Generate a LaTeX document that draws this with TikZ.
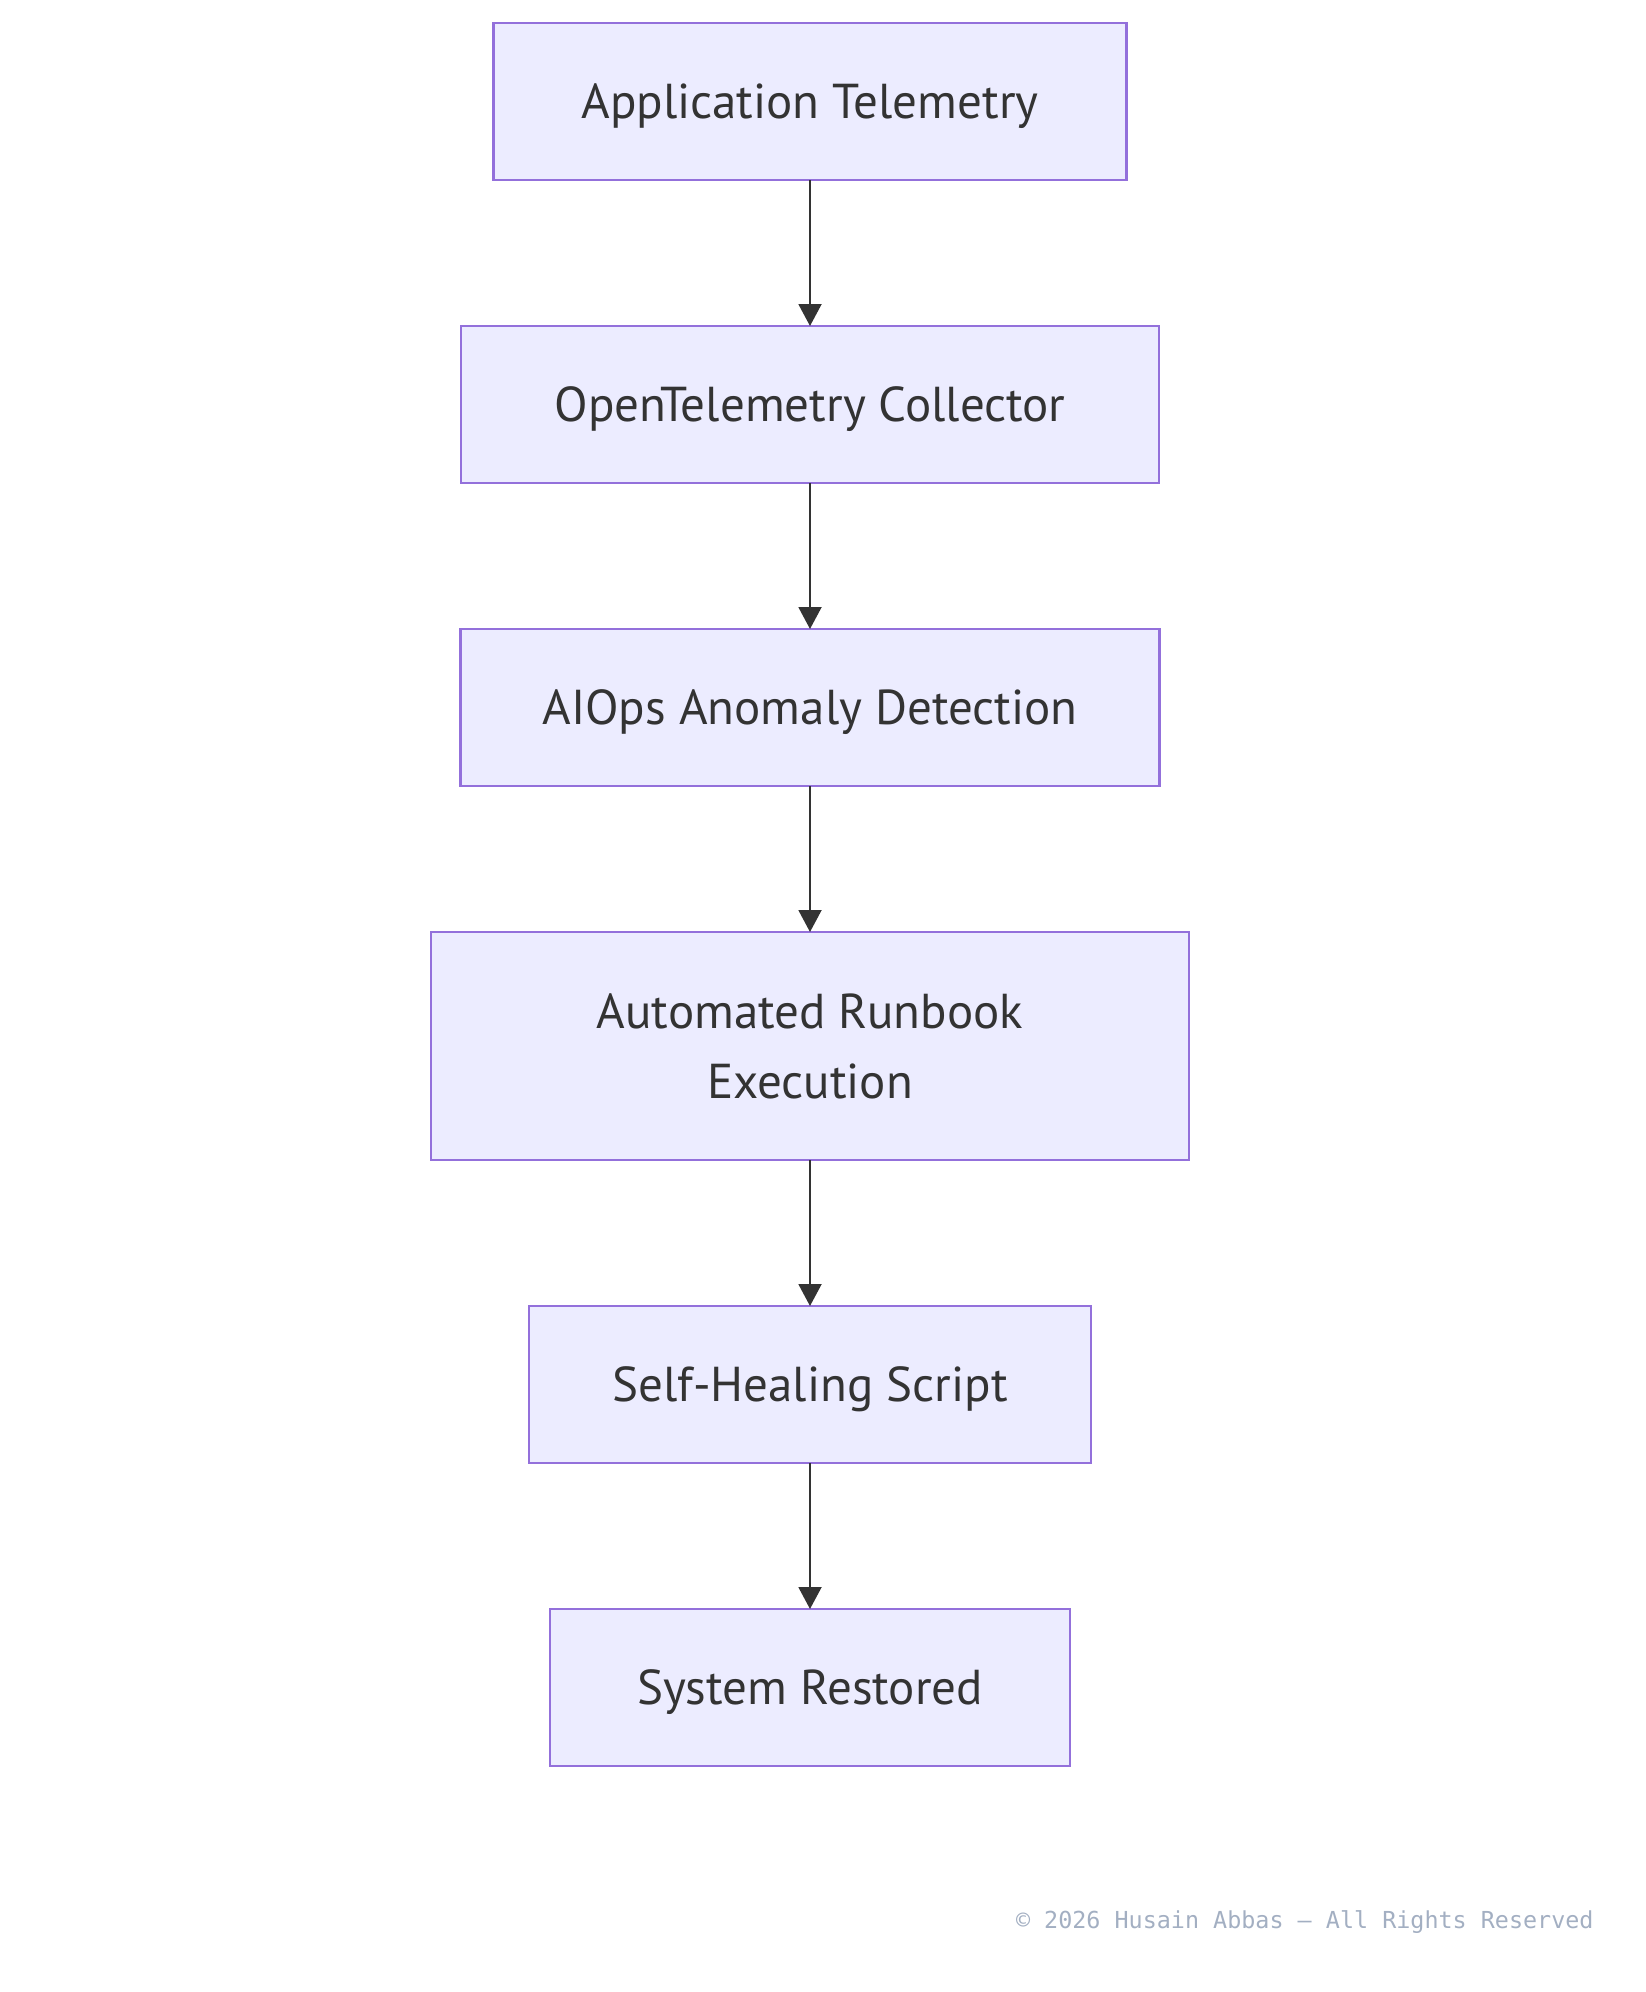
\documentclass[tikz,border=0pt]{standalone}
\usepackage{fontspec}
\setmainfont{PT Sans}
\setmonofont{DejaVu Sans Mono}
\usetikzlibrary{positioning,arrows.meta}
\definecolor{boxfill}{HTML}{ECECFF}
\definecolor{boxline}{HTML}{9370DB}
\definecolor{ink}{HTML}{333333}
\definecolor{footgray}{HTML}{A3AFC2}

\begin{document}
\begin{tikzpicture}[x=0.5pt,y=-0.5pt,node distance=73pt,
    box/.style={draw=boxline,fill=boxfill,line width=1.2pt,minimum height=78.5pt,
      inner sep=0pt,outer sep=0pt,text depth=0pt,align=center,text=ink,font=\fontsize{24.5}{35}\selectfont},
    flow/.style={draw=ink,line width=1pt,-{Triangle[width=11.5pt,length=11pt]}}]
    \useasboundingbox (0,0) rectangle (1645,1992);
    \node[box,minimum width=316.5pt] (tele) at (810,101.5) {Application Telemetry};
    \node[box,minimum width=349pt,below=of tele] (otel) {OpenTelemetry Collector};
    \node[box,minimum width=349.5pt,below=of otel] (aiops) {AIOps Anomaly Detection};
    \node[box,minimum width=379pt,minimum height=114pt,below=of aiops] (runbook) {Automated Runbook\\Execution};
    \node[box,minimum width=281pt,below=of runbook] (heal) {Self-Healing Script};
    \node[box,minimum width=260pt,below=of heal] (restored) {System Restored};
    \draw[flow] (tele) -- (otel);
    \draw[flow] (otel) -- (aiops);
    \draw[flow] (aiops) -- (runbook);
    \draw[flow] (runbook) -- (heal);
    \draw[flow] (heal) -- (restored);
    \node[anchor=east,inner sep=0pt,text=footgray,font=\ttfamily\fontsize{11.7}{14}\selectfont] (credit) at (1594,1922) {© 2026 Husain Abbas — All Rights Reserved};
\end{tikzpicture}
\end{document}
